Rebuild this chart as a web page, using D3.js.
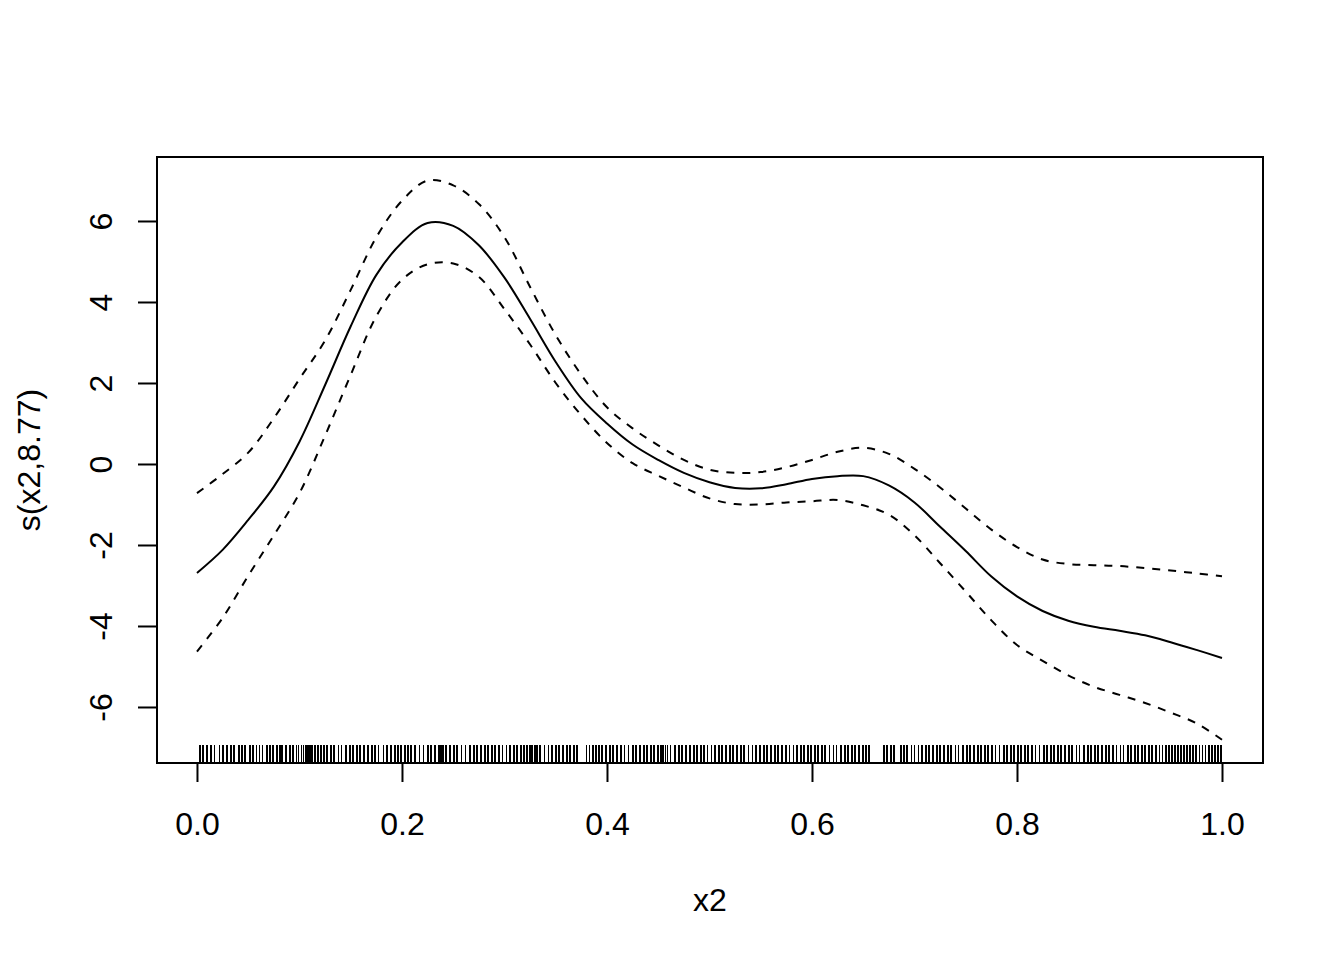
<!DOCTYPE html>
<meta charset="utf-8">
<style>
  body { margin: 0; background: #fff; }
  .line { fill: none; stroke: #000; stroke-width: 2px; }
  .band { fill: none; stroke: #000; stroke-width: 2px; stroke-dasharray: 8, 8; }
  text { font-family: "Liberation Sans", Arial, sans-serif; font-size: 32px; fill: #000; }
</style>
<body>
  <script src="https://d3js.org/d3.v7.min.js"></script>
  <script>
    // x grid of the smooth and its values
    var gridX = [0.000, 0.025, 0.050, 0.075, 0.100, 0.125, 0.150, 0.175, 0.200, 0.225,
      0.250, 0.275, 0.300, 0.325, 0.350, 0.375, 0.400, 0.425, 0.450, 0.475,
      0.500, 0.525, 0.550, 0.575, 0.600, 0.625, 0.650, 0.675, 0.700, 0.725,
      0.750, 0.775, 0.800, 0.825, 0.850, 0.875, 0.900, 0.925, 0.950, 0.975, 1.000];

    var fitY = [-2.69, -2.12, -1.38, -0.56, 0.55, 1.95, 3.40, 4.67, 5.47, 5.95,
      5.88, 5.40, 4.60, 3.58, 2.52, 1.62, 1.00, 0.48, 0.10, -0.22,
      -0.45, -0.59, -0.60, -0.50, -0.37, -0.30, -0.30, -0.53, -0.95, -1.55,
      -2.15, -2.78, -3.27, -3.63, -3.87, -4.02, -4.12, -4.23, -4.40, -4.59, -4.79];

    var upperY = [-0.72, -0.25, 0.28, 1.13, 2.10, 3.05, 4.30, 5.60, 6.50, 7.00,
      6.88, 6.42, 5.60, 4.37, 3.18, 2.20, 1.40, 0.88, 0.46, 0.10,
      -0.14, -0.22, -0.20, -0.08, 0.10, 0.30, 0.40, 0.25, -0.12, -0.58,
      -1.10, -1.62, -2.05, -2.36, -2.47, -2.50, -2.52, -2.57, -2.63, -2.70, -2.77];

    var lowerY = [-4.63, -3.80, -2.76, -1.76, -0.72, 0.70, 2.20, 3.65, 4.55, 4.93,
      4.95, 4.62, 3.82, 2.95, 2.00, 1.20, 0.52, 0.02, -0.29, -0.58,
      -0.85, -0.99, -1.00, -0.95, -0.92, -0.89, -1.02, -1.25, -1.76, -2.45,
      -3.15, -3.86, -4.47, -4.86, -5.22, -5.50, -5.70, -5.90, -6.14, -6.40, -6.81];

    // observed x2 values for the rug
    var rugX = [0.003, 0.006, 0.010, 0.014, 0.017, 0.022, 0.025, 0.029, 0.033, 0.036, 0.041, 0.044, 0.047, 0.052, 0.055,
      0.058, 0.061, 0.064, 0.068, 0.071, 0.074, 0.078, 0.081, 0.083, 0.087, 0.091, 0.094, 0.097, 0.099,
      0.102, 0.104, 0.106, 0.108, 0.110, 0.112, 0.115, 0.118, 0.121, 0.124, 0.127, 0.131, 0.134, 0.138, 0.141, 0.145,
      0.149, 0.152, 0.156, 0.159, 0.163, 0.167, 0.171, 0.174, 0.177, 0.182, 0.185, 0.189, 0.193, 0.196, 0.199,
      0.203, 0.206, 0.209, 0.213, 0.217, 0.221, 0.225, 0.228, 0.232, 0.236, 0.238, 0.240, 0.243, 0.247, 0.251,
      0.254, 0.258, 0.262, 0.266, 0.270, 0.273, 0.277, 0.281, 0.284, 0.288, 0.291, 0.295, 0.298,
      0.302, 0.305, 0.309, 0.312, 0.316, 0.319, 0.322, 0.325, 0.327, 0.330, 0.332, 0.335, 0.339, 0.343, 0.346,
      0.350, 0.353, 0.357, 0.361, 0.364, 0.368, 0.371, 0.380, 0.383, 0.386, 0.389, 0.392, 0.395, 0.399,
      0.403, 0.406, 0.410, 0.414, 0.417, 0.421, 0.425, 0.428, 0.432, 0.436, 0.439, 0.443, 0.446, 0.450, 0.453,
      0.455, 0.457, 0.459, 0.462, 0.466, 0.470, 0.473, 0.477, 0.481, 0.485, 0.488, 0.492, 0.495, 0.498,
      0.502, 0.505, 0.509, 0.512, 0.516, 0.520, 0.523, 0.527, 0.531, 0.534, 0.538, 0.542, 0.545, 0.549, 0.553,
      0.556, 0.560, 0.564, 0.567, 0.571, 0.575, 0.578, 0.582, 0.585, 0.589, 0.592, 0.596, 0.599,
      0.603, 0.606, 0.610, 0.613, 0.617, 0.621, 0.624, 0.628, 0.632, 0.635, 0.639, 0.642, 0.646, 0.650, 0.653,
      0.656, 0.670, 0.673, 0.677, 0.680, 0.687, 0.690, 0.693, 0.697, 0.700,
      0.704, 0.707, 0.711, 0.714, 0.718, 0.722, 0.725, 0.729, 0.733, 0.736, 0.740, 0.743, 0.747, 0.751, 0.754,
      0.758, 0.762, 0.765, 0.769, 0.772, 0.776, 0.779, 0.783, 0.787, 0.790, 0.794, 0.797,
      0.801, 0.804, 0.808, 0.811, 0.815, 0.818, 0.822, 0.826, 0.829, 0.833, 0.836, 0.840, 0.843, 0.847, 0.851,
      0.854, 0.858, 0.861, 0.865, 0.869, 0.872, 0.876, 0.879, 0.883, 0.887, 0.890, 0.894, 0.897,
      0.901, 0.904, 0.908, 0.911, 0.915, 0.918, 0.922, 0.925, 0.929, 0.932, 0.936, 0.939, 0.942, 0.945, 0.948,
      0.951, 0.954, 0.957, 0.960, 0.963, 0.966, 0.969, 0.972, 0.975, 0.978, 0.981, 0.984, 0.987, 0.990, 0.993,
      0.996, 0.999];

    var xTicks = [0, 0.2, 0.4, 0.6, 0.8, 1.0];
    var yTicks = [-6, -4, -2, 0, 2, 4, 6];

    var margin = { top: 157, right: 81, bottom: 197, left: 157 },
      width = 1344 - margin.left - margin.right,
      height = 960 - margin.top - margin.bottom;

    var svg = d3.select("body").append("svg")
      .attr("width", 1344)
      .attr("height", 960)
      .append("g")
      .attr("transform", "translate(" + margin.left + "," + margin.top + ")");

    // R pads the data range by 4% on each side
    var x = d3.scaleLinear().domain([-0.039, 1.040]).range([0, width]);
    var y = d3.scaleLinear().domain([-7.383, 7.580]).range([height, 0]);

    var line = function (vals) {
      return d3.line()
        .x(function (d, i) { return x(gridX[i]); })
        .y(function (d) { return y(d); })
        .curve(d3.curveCatmullRom)(vals);
    };

    svg.append("path").attr("class", "band").attr("d", line(upperY));
    svg.append("path").attr("class", "band").attr("d", line(lowerY));
    svg.append("path").attr("class", "line").attr("d", line(fitY));

    // rug
    svg.selectAll(".rug")
      .data(rugX)
      .enter()
      .append("line")
      .attr("class", "rug")
      .attr("x1", function (d) { return x(d); })
      .attr("x2", function (d) { return x(d); })
      .attr("y1", height)
      .attr("y2", height - height * 0.03)
      .attr("stroke", "#000")
      .attr("stroke-width", 1.8)
      .attr("shape-rendering", "crispEdges");

    // X axis
    var xAxis = svg.append("g")
      .attr("transform", "translate(0," + height + ")")
      .call(d3.axisBottom(x).tickValues(xTicks).tickSize(19).tickPadding(0)
        .tickFormat(d3.format(".1f")));
    xAxis.select(".domain").attr("d", "M" + x(0) + ",0H" + x(1)).attr("stroke-width", 2);
    xAxis.selectAll(".tick line").attr("stroke-width", 2);
    xAxis.selectAll(".tick text").attr("font-size", null).attr("font-family", null)
      .attr("dy", null).attr("y", 72);

    // Y axis (plain hyphen for negatives, like R)
    var yAxis = svg.append("g")
      .call(d3.axisLeft(y).tickValues(yTicks).tickSize(19).tickFormat(function (d) { return String(d); }));
    yAxis.select(".domain").attr("d", "M0," + y(-6) + "V" + y(6)).attr("stroke-width", 2);
    yAxis.selectAll(".tick line").attr("stroke-width", 2);
    yAxis.selectAll(".tick text").attr("font-size", null).attr("font-family", null)
      .attr("x", null).attr("dy", null)
      .attr("text-anchor", "middle")
      .attr("transform", "translate(-45,0) rotate(-90)");

    // box
    svg.append("rect")
      .attr("width", width)
      .attr("height", height)
      .attr("fill", "none")
      .attr("stroke", "#000")
      .attr("stroke-width", 2);

    // axis titles
    svg.append("text")
      .attr("text-anchor", "middle")
      .attr("x", width / 2)
      .attr("y", height + 148)
      .text("x2");

    svg.append("text")
      .attr("text-anchor", "middle")
      .attr("transform", "translate(-117," + (height / 2) + ") rotate(-90)")
      .text("s(x2,8.77)");
  </script>
</body>
